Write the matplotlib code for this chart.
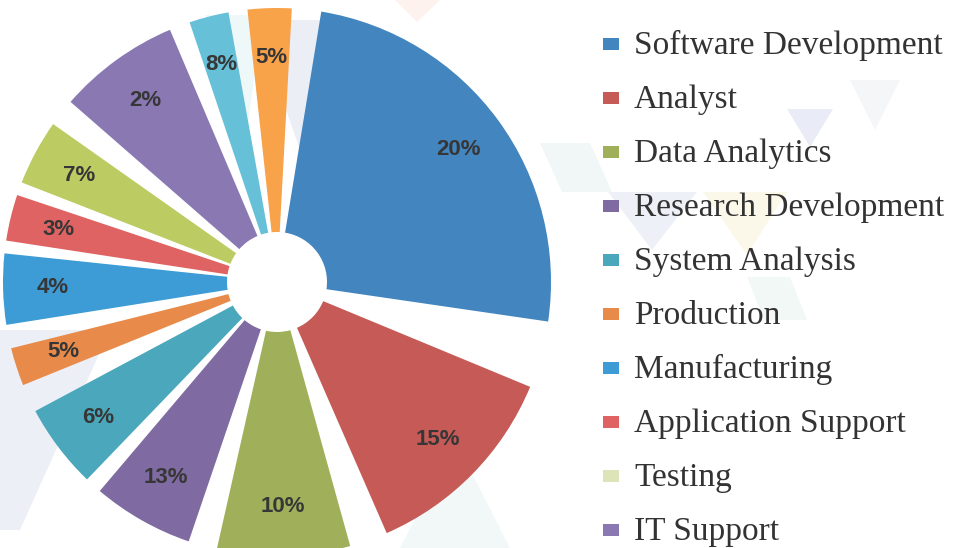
import matplotlib
matplotlib.use("Agg")
import matplotlib.pyplot as plt
from matplotlib.patches import Polygon, Rectangle
import numpy as np

# ---------------- data ----------------
legend_labels = ["Software Development", "Analyst", "Data Analytics", "Research Development",
                 "System Analysis", "Production", "Manufacturing", "Application Support",
                 "Testing", "IT Support"]
legend_colors = ["#4285bf", "#c55a56", "#a0b05a", "#7f6ba2", "#4ba8bc", "#e88b4a",
                 "#3d9bd5", "#e06363", "#dde5b8", "#8a78b2"]

# angular extent (degrees) of each slice, clockwise from the top
slice_spans = [89.0, 43.9, 28.2, 21.5, 18.0, 8.1, 15.0, 9.8, 13.9, 25.9, 8.4, 9.3]
# empty angular gap (degrees) following each slice
slice_gaps = [14.2, 8.1, 6.1, 3.6, 6.0, 5.0, 2.7, 2.8, 5.9, 4.4, 4.0, 6.2]
slice_labels = ["20%", "15%", "10%", "13%", "6%", "5%", "4%", "3%", "7%", "2%", "8%", "5%"]
slice_colors = ["#4285bf", "#c55a56", "#a0b05a", "#7f6ba2", "#4ba8bc", "#e88b4a",
                "#3d9bd5", "#e06363", "#bccc62", "#8a78b2", "#66c0d8", "#f8a24a"]
first_slice_start = 9.3  # degrees clockwise from 12 o'clock

# ---------------- figure ----------------
W, H = 959, 548
fig = plt.figure(figsize=(W / 100, H / 100), dpi=100)
fig.patch.set_facecolor("white")

bg = fig.add_axes([0, 0, 1, 1])
bg.set_xlim(0, W)
bg.set_ylim(H, 0)
bg.axis("off")

# faint decorative background triangles
deco = [
    ([(787, 109), (833, 109), (810, 147)], "#d8def2"),
    ([(608, 192), (697, 192), (652, 250)], "#e0e5f3"),
    ([(703, 192), (787, 192), (747, 255)], "#fbf4d8"),
    ([(540, 143), (590, 143), (612, 192), (562, 192)], "#e5f2ef"),
    ([(747, 277), (790, 277), (807, 320), (764, 320)], "#e8f3f0"),
    ([(0, 330), (110, 330), (20, 530), (0, 530)], "#dfe3f0"),
    ([(255, 20), (345, 20), (300, 150)], "#dde0f0"),
    ([(205, 15), (262, 15), (245, 150)], "#e3f3f3"),
    ([(395, 0), (440, 0), (417, 22)], "#fde8df"),
    ([(455, 440), (400, 548), (510, 548)], "#e8f4f2"),
    ([(850, 80), (900, 80), (875, 130)], "#eef0f4"),
]
for pts, col in deco:
    bg.add_patch(Polygon(pts, closed=True, facecolor=col, edgecolor="none",
                         alpha=0.55, zorder=0))

# ---------------- pie ----------------
cx, cy, R, r_in = 277, 282, 274, 50
ax = fig.add_axes([(cx - R) / W, 1 - (cy + R) / H, 2 * R / W, 2 * R / H])

values, colors = [], []
for s, g, c in zip(slice_spans, slice_gaps, slice_colors):
    values += [s, g]
    colors += [c, "none"]

ax.pie(values, colors=colors, startangle=90 - first_slice_start, counterclock=False,
       radius=1, wedgeprops=dict(width=1 - r_in / R, linewidth=0, edgecolor="none"))
ax.set_xlim(-1, 1)
ax.set_ylim(-1, 1)
ax.set_aspect("equal")
ax.axis("off")

starts = first_slice_start + np.concatenate([[0], np.cumsum(np.array(slice_spans) + np.array(slice_gaps))[:-1]])
mids = np.radians(starts + np.array(slice_spans) / 2)
r_lab = 0.82
for m, lab in zip(mids, slice_labels):
    ax.text(r_lab * np.sin(m), r_lab * np.cos(m), lab, ha="center", va="center",
            fontsize=16, fontweight="bold", family="Liberation Sans", color="#363636")

# ---------------- legend ----------------
for i, (lab, col) in enumerate(zip(legend_labels, legend_colors)):
    yc = 44 + 54 * i
    bg.add_patch(Rectangle((603, yc - 6), 16, 12, facecolor=col, edgecolor="none", zorder=3))
    bg.text(634, yc + 10, lab, ha="left", va="baseline", fontsize=24,
            family="Liberation Serif", color="#333333", zorder=3)

fig.savefig("out.png", dpi=100, facecolor="white")
